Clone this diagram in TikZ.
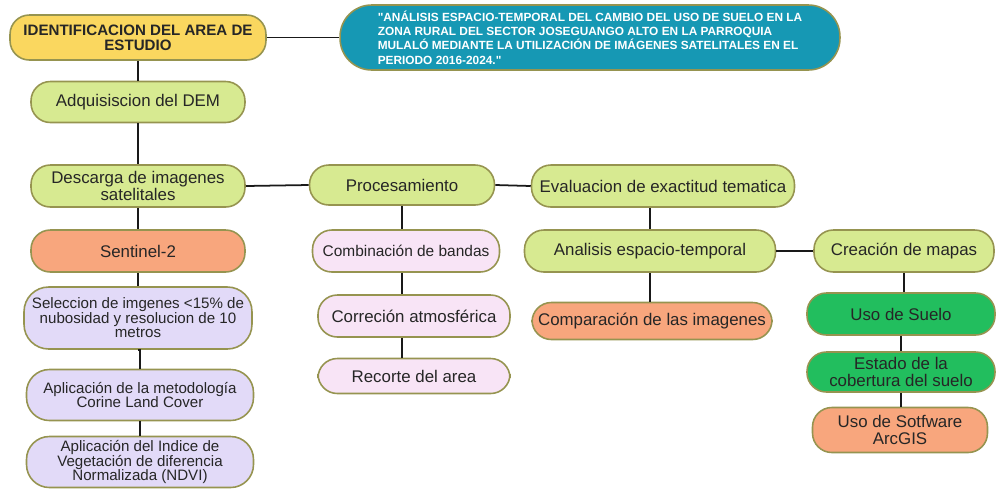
\documentclass[tikz,border=0pt]{standalone}
\usepackage{fontspec}
\setmainfont{Liberation Sans}[Ligatures=TeXOff]
\definecolor{lima}{RGB}{215,234,145}
\definecolor{amarillo}{RGB}{250,215,95}
\definecolor{salmon}{RGB}{248,166,125}
\definecolor{lavanda}{RGB}{226,218,248}
\definecolor{rosado}{RGB}{248,228,246}
\definecolor{verde}{RGB}{34,190,94}
\definecolor{turquesa}{RGB}{22,152,180}
\definecolor{borde}{RGB}{150,148,80}

\begin{document}
\begin{tikzpicture}[x=0.02cm, y=-0.02cm,
  caja/.style={draw=borde, line width=0.9pt, rounded corners=11pt, align=center,
    inner sep=1pt, text=black!85, font=\fontsize{9.6}{11}\selectfont},
  chica/.style={font=\fontsize{8.6}{8.3}\selectfont},
  enlace/.style={line width=1pt, black!90}]
  \useasboundingbox (0,0) rectangle (996,498);
  % cabecera
  \node[caja, fill=amarillo, minimum width=5.12cm, minimum height=0.9cm,
    font=\bfseries\fontsize{8.6}{8.4}\selectfont] (ident) at (138,37.5)
    {IDENTIFICACION DEL AREA DE\\ESTUDIO};
  \node[caja, fill=turquesa, minimum width=10cm, minimum height=1.3cm, rounded corners=18pt,
    align=left, text=white, font=\bfseries\fontsize{6.75}{8.2}\selectfont] (titulo) at (590,37.5)
    {"ANÁLISIS ESPACIO-TEMPORAL DEL CAMBIO DEL USO DE SUELO EN LA\\
     ZONA RURAL DEL SECTOR JOSEGUANGO ALTO EN LA PARROQUIA\\
     MULALÓ MEDIANTE LA UTILIZACIÓN DE IMÁGENES SATELITALES EN EL\\
     PERIODO 2016-2024."};
  % columna izquierda
  \node[caja, fill=lima, minimum width=4.28cm, minimum height=0.82cm] (adq) at (138,102) {Adquisiscion del DEM};
  \node[caja, fill=lima, minimum width=4.28cm, minimum height=0.84cm,
    font=\fontsize{9.6}{10}\selectfont] (descarga) at (138,186) {Descarga de imagenes\\satelitales};
  \node[caja, fill=salmon, minimum width=4.28cm, minimum height=0.84cm] (sentinel) at (138,251) {Sentinel-2};
  \node[caja, chica, fill=lavanda, minimum width=4.56cm, minimum height=1.24cm, rounded corners=14pt] (seleccion) at (138,318)
    {Seleccion de imgenes <15\% de\\nubosidad y resolucion de 10\\metros};
  \node[caja, chica, fill=lavanda, minimum width=4.54cm, minimum height=1.02cm, rounded corners=13pt] (corine) at (140,395)
    {Aplicación de la metodología\\Corine Land Cover};
  \node[caja, chica, fill=lavanda, minimum width=4.54cm, minimum height=1.02cm, rounded corners=13pt] (ndvi) at (140,462)
    {Aplicación del Indice de\\Vegetación de diferencia\\Normalizada (NDVI)};
  % procesamiento
  \node[caja, fill=lima, minimum width=3.7cm, minimum height=0.8cm] (proc) at (402,185) {Procesamiento};
  \node[caja, fill=rosado, minimum width=3.74cm, minimum height=0.84cm,
    font=\fontsize{8.8}{10}\selectfont] (bandas) at (406,251) {Combinación de bandas};
  \node[caja, fill=rosado, minimum width=3.84cm, minimum height=0.84cm] (atmos) at (414,316) {Correción atmosférica};
  \node[caja, fill=rosado, minimum width=3.84cm, minimum height=0.7cm] (recorte) at (414,376) {Recorte del area};
  % evaluacion y analisis
  \node[caja, fill=lima, minimum width=5.26cm, minimum height=0.84cm] (eval) at (663,186) {Evaluacion de exactitud tematica};
  \node[caja, fill=lima, minimum width=5.02cm, minimum height=0.84cm] (analisis) at (650,251) {Analisis espacio-temporal};
  \node[caja, fill=salmon, minimum width=4.8cm, minimum height=0.74cm] (compara) at (652,321) {Comparación de las imagenes};
  % mapas
  \node[caja, fill=lima, minimum width=3.6cm, minimum height=0.84cm] (mapas) at (904,251) {Creación de mapas};
  \node[caja, fill=verde, minimum width=3.76cm, minimum height=0.84cm] (suelo) at (901,314) {Uso de Suelo};
  \node[caja, fill=verde, minimum width=3.76cm, minimum height=0.8cm,
    font=\fontsize{9.6}{9.5}\selectfont] (estado) at (901,372) {Estado de la\\cobertura del suelo};
  \node[caja, fill=salmon, minimum width=3.5cm, minimum height=0.9cm,
    font=\fontsize{9.6}{9.5}\selectfont] (arcgis) at (900,430) {Uso de Sotfware\\ArcGIS};
  % conectores
  \draw[enlace] (ident.east) -- (titulo.west);
  \draw[enlace] (ident.south) -- (adq.north);
  \draw[enlace] (adq.south) -- (descarga.north);
  \draw[enlace] (descarga.south) -- (sentinel.north);
  \draw[enlace] (sentinel.south) -- (seleccion.north);
  \draw[enlace] (seleccion.south) -- (corine.south |- seleccion.south) -- (corine.north);
  \draw[enlace] (corine.south) -- (ndvi.north);
  \draw[enlace] (descarga.east) -- (proc.west);
  \draw[enlace] (proc.east) -- (eval.west);
  \draw[enlace] (proc.south) -- (proc.south |- bandas.north);
  \draw[enlace] (proc.south |- bandas.south) -- (proc.south |- atmos.north);
  \draw[enlace] (proc.south |- atmos.south) -- (proc.south |- recorte.north);
  \draw[enlace] (analisis.north |- eval.south) -- (analisis.north);
  \draw[enlace] (analisis.south) -- (analisis.south |- compara.north);
  \draw[enlace] (analisis.east) -- (mapas.west);
  \draw[enlace] (mapas.south) -- (mapas.south |- suelo.north);
  \draw[enlace] (suelo.south) -- (suelo.south |- estado.north);
  \draw[enlace] (estado.south) -- (estado.south |- arcgis.north);
\end{tikzpicture}
\end{document}
